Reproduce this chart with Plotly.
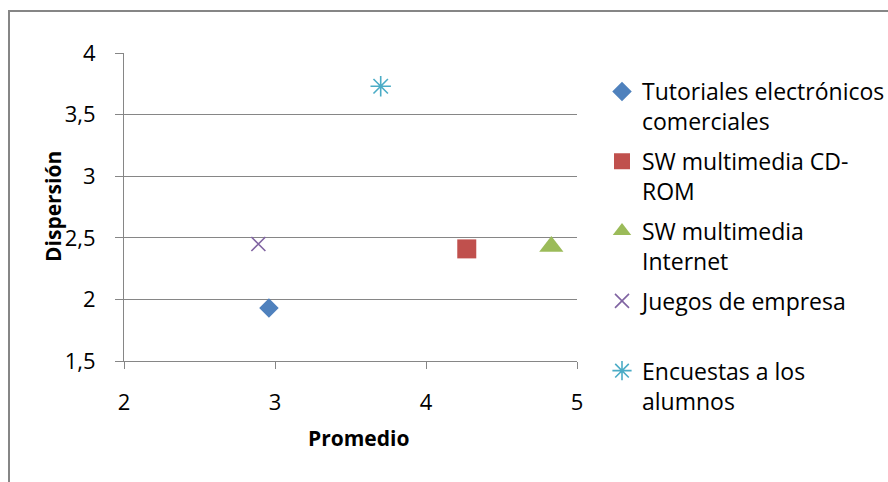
import plotly.graph_objects as go

# Promedio (x) y dispersión (y) de cada recurso evaluado
series_names = [
    "Tutoriales electrónicos<br>comerciales",
    "SW multimedia CD-<br>ROM",
    "SW multimedia<br>Internet",
    "Juegos de empresa<br> ",
    "Encuestas a los<br>alumnos",
]
promedio = [2.96, 4.27, 4.83, 2.89, 3.70]
dispersion = [1.93, 2.41, 2.43, 2.45, 3.73]

colors = ["#4F81BD", "#C0504D", "#9BBB59", "#8064A2", "#4BACC6"]
symbols = ["diamond", "square", "triangle-up", "x-thin-open", "asterisk-open"]
sizes = [15, 19, 21, 14, 17]

FONT = "Open Sans"
GRID = "#868686"

W, H = 888, 482
L, R, T, B = 124, 311, 53, 121
PW, PH = W - L - R, H - T - B


def px_x(px):
    return (px - L) / PW


def px_y(py):
    return (H - B - py) / PH


fig = go.Figure()
for i, name in enumerate(series_names):
    fig.add_trace(go.Scatter(
        x=[promedio[i]], y=[dispersion[i]], mode="markers", name=name,
        legendgroup=f"g{i}",
        marker=dict(symbol=symbols[i], size=sizes[i], color=colors[i],
                    line=dict(color=colors[i], width=1.6 if "open" in symbols[i] else 0)),
        hoverinfo="x+y",
    ))

fig.update_layout(
    width=W, height=H,
    margin=dict(l=L, r=R, t=T, b=B, pad=0, autoexpand=False),
    paper_bgcolor="white", plot_bgcolor="white",
    separators=",.",
    font=dict(family=FONT, size=22, color="#000000"),
    showlegend=True,
    legend=dict(
        x=px_x(602), y=px_y(70), xanchor="left", yanchor="top",
        valign="top", traceorder="grouped", tracegroupgap=7,
        font=dict(family=FONT, size=23, color="#000000"),
        bgcolor="rgba(0,0,0,0)", itemwidth=30, maxheight=480,
    ),
    xaxis=dict(
        range=[2, 5], dtick=1, tick0=2, showgrid=False, zeroline=False,
        showline=True, linecolor=GRID, linewidth=1,
        ticks="outside", ticklen=7, tickcolor=GRID, tickwidth=1,
        ticklabelstandoff=15, tickfont=dict(size=22),
    ),
    yaxis=dict(
        range=[1.5, 4], dtick=0.5, tick0=1.5, showgrid=True, gridcolor=GRID,
        gridwidth=1, zeroline=False,
        showline=True, linecolor=GRID, linewidth=1,
        ticks="outside", ticklen=8, tickcolor=GRID, tickwidth=1,
        ticklabelstandoff=15, tickfont=dict(size=22),
    ),
    shapes=[dict(
        type="rect", xref="paper", yref="paper",
        x0=px_x(9), x1=px_x(905), y0=px_y(505), y1=px_y(11),
        line=dict(color=GRID, width=2), fillcolor="rgba(0,0,0,0)", layer="below",
    )],
    annotations=[
        dict(text="<b>Promedio</b>", xref="paper", yref="paper",
             x=px_x(358), y=px_y(438), xanchor="center", yanchor="middle",
             showarrow=False, font=dict(family=FONT, size=21, color="#000000")),
        dict(text="<b>Dispersión</b>", xref="paper", yref="paper",
             x=px_x(53), y=px_y(207), xanchor="center", yanchor="middle",
             showarrow=False, textangle=-90,
             font=dict(family=FONT, size=21, color="#000000")),
    ],
)

fig.write_html("out.html")
